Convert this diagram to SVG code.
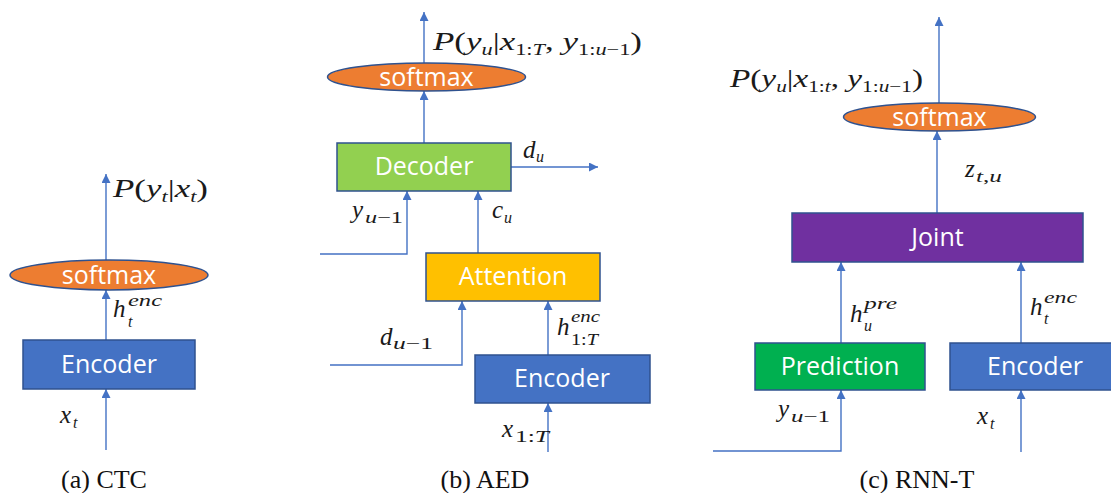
<svg xmlns="http://www.w3.org/2000/svg" width="1111" height="493" viewBox="0 0 1111 493">
<style>
.bx{stroke:#2F528F;stroke-width:1.5}
.el{fill:#ED7D31;stroke:#2F528F;stroke-width:1.5}
.lb{font-family:"Open Sans","Liberation Sans",sans-serif;font-size:25px;fill:#fff;text-anchor:middle}
.ln{fill:none;stroke:#4472C4;stroke-width:1.4}
.m{font-family:"Liberation Serif","Times New Roman",serif;font-size:25px;font-style:italic;fill:#1a1a1a}
.r{font-style:normal}
.s{font-size:16px}
.cap{font-family:"Liberation Serif","Times New Roman",serif;font-size:26px;fill:#111;text-anchor:middle}
</style>
<defs>
<marker id="ah" viewBox="0 0 10 10" refX="10" refY="5" markerWidth="10" markerHeight="9" markerUnits="userSpaceOnUse" orient="auto">
<path d="M0,0 L10,5 L0,10 z" fill="#4472C4"/>
</marker>
</defs>
<rect width="1111" height="493" fill="#fff"/>

<g id="connectors">
<!-- CTC -->
<line class="ln" x1="106" y1="260" x2="106" y2="174" marker-end="url(#ah)"/>
<line class="ln" x1="106" y1="340" x2="106" y2="290" marker-end="url(#ah)"/>
<line class="ln" x1="106" y1="450" x2="106" y2="389" marker-end="url(#ah)"/>
<!-- AED -->
<line class="ln" x1="424" y1="63" x2="424" y2="12" marker-end="url(#ah)"/>
<line class="ln" x1="424" y1="143" x2="424" y2="91" marker-end="url(#ah)"/>
<line class="ln" x1="511" y1="167" x2="598" y2="167" marker-end="url(#ah)"/>
<path class="ln" d="M320,254 H407 V191" marker-end="url(#ah)"/>
<line class="ln" x1="478" y1="253" x2="478" y2="191" marker-end="url(#ah)"/>
<path class="ln" d="M330,365 H462 V301" marker-end="url(#ah)"/>
<line class="ln" x1="548" y1="355" x2="548" y2="301" marker-end="url(#ah)"/>
<line class="ln" x1="548" y1="452" x2="548" y2="403" marker-end="url(#ah)"/>
<!-- RNN-T -->
<line class="ln" x1="939" y1="103" x2="939" y2="17" marker-end="url(#ah)"/>
<line class="ln" x1="937" y1="213" x2="937" y2="131" marker-end="url(#ah)"/>
<line class="ln" x1="841" y1="343" x2="841" y2="262" marker-end="url(#ah)"/>
<line class="ln" x1="1021" y1="343" x2="1021" y2="262" marker-end="url(#ah)"/>
<path class="ln" d="M713,451 H841 V390" marker-end="url(#ah)"/>
<line class="ln" x1="1021" y1="452" x2="1021" y2="390" marker-end="url(#ah)"/>
</g>

<!-- CTC -->
<g id="ctc-softmax">
<ellipse class="el" cx="109" cy="275" rx="99" ry="15"/>
<text class="lb" x="109" y="284">softmax</text>
</g>
<g id="ctc-encoder">
<rect class="bx" x="23" y="340" width="172" height="49" fill="#4472C4"/>
<text class="lb" x="109" y="373">Encoder</text>
</g>
<g id="ctc-labels">
<text class="m" x="113" y="197" textLength="95" lengthAdjust="spacingAndGlyphs">P<tspan class="r">(</tspan>y<tspan class="s" dy="5">t</tspan><tspan class="r" dy="-5">|</tspan>x<tspan class="s" dy="5">t</tspan><tspan class="r" dy="-5">)</tspan></text>
<text class="m" x="113" y="317">h</text>
<text class="m s" x="128" y="306" textLength="34" lengthAdjust="spacingAndGlyphs">enc</text>
<text class="m s" x="128" y="327">t</text>
<text class="m" x="60" y="423">x</text>
<text class="m s" x="73" y="428">t</text>
<text class="cap" x="104" y="488">(a) CTC</text>
</g>

<!-- AED -->
<g id="aed-softmax">
<ellipse class="el" cx="426.5" cy="77" rx="99" ry="14"/>
<text class="lb" x="426.5" y="86">softmax</text>
</g>
<g id="aed-decoder">
<rect class="bx" x="337" y="143" width="174" height="48" fill="#92D050"/>
<text class="lb" x="424" y="175">Decoder</text>
</g>
<g id="aed-attention">
<rect class="bx" x="426" y="253" width="174" height="48" fill="#FFC000"/>
<text class="lb" x="513" y="285">Attention</text>
</g>
<g id="aed-encoder">
<rect class="bx" x="475" y="355" width="175" height="48" fill="#4472C4"/>
<text class="lb" x="562" y="387">Encoder</text>
</g>
<g id="aed-labels">
<text class="m" x="433" y="50" textLength="209" lengthAdjust="spacingAndGlyphs">P<tspan class="r">(</tspan>y<tspan class="s" dy="5">u</tspan><tspan class="r" dy="-5">|</tspan>x<tspan class="s r" dy="5">1:</tspan><tspan class="s">T</tspan><tspan class="r" dy="-5">, </tspan>y<tspan class="s r" dy="5">1:</tspan><tspan class="s">u</tspan><tspan class="s r">−1</tspan><tspan class="r" dy="-5">)</tspan></text>
<text class="m" x="523" y="158">d</text>
<text class="m s" x="536" y="162">u</text>
<text class="m" x="352" y="218">y</text>
<text class="m s" x="365" y="223" textLength="38" lengthAdjust="spacingAndGlyphs">u<tspan class="r">−1</tspan></text>
<text class="m" x="492" y="218">c</text>
<text class="m s" x="504" y="223">u</text>
<text class="m" x="380" y="345">d</text>
<text class="m s" x="393" y="349" textLength="40" lengthAdjust="spacingAndGlyphs">u<tspan class="r">−1</tspan></text>
<text class="m" x="557" y="335">h</text>
<text class="m s" x="571" y="322" textLength="29" lengthAdjust="spacingAndGlyphs">enc</text>
<text class="m s" x="571" y="345" textLength="27" lengthAdjust="spacingAndGlyphs"><tspan class="r">1:</tspan>T</text>
<text class="m" x="502" y="437">x</text>
<text class="m s" x="515" y="442" textLength="34" lengthAdjust="spacingAndGlyphs"><tspan class="r">1:</tspan>T</text>
<text class="cap" x="485" y="488">(b) AED</text>
</g>

<!-- RNN-T -->
<g id="rnnt-softmax">
<ellipse class="el" cx="939.5" cy="117" rx="96" ry="14"/>
<text class="lb" x="939.5" y="126">softmax</text>
</g>
<g id="rnnt-joint">
<rect class="bx" x="792" y="213" width="291" height="49" fill="#7030A0"/>
<text class="lb" x="937.5" y="246">Joint</text>
</g>
<g id="rnnt-prediction">
<rect class="bx" x="755" y="343" width="170" height="47" fill="#00B050"/>
<text class="lb" x="840" y="375">Prediction</text>
</g>
<g id="rnnt-encoder">
<rect class="bx" x="950" y="343" width="165" height="47" fill="#4472C4"/>
<text class="lb" x="1035" y="375">Encoder</text>
</g>
<g id="rnnt-labels">
<text class="m" x="730" y="87" textLength="193" lengthAdjust="spacingAndGlyphs">P<tspan class="r">(</tspan>y<tspan class="s" dy="5">u</tspan><tspan class="r" dy="-5">|</tspan>x<tspan class="s r" dy="5">1:</tspan><tspan class="s">t</tspan><tspan class="r" dy="-5">, </tspan>y<tspan class="s r" dy="5">1:</tspan><tspan class="s">u</tspan><tspan class="s r">−1</tspan><tspan class="r" dy="-5">)</tspan></text>
<text class="m" x="965" y="177">z</text>
<text class="m s" x="976" y="182" textLength="26" lengthAdjust="spacingAndGlyphs">t<tspan class="r">,</tspan>u</text>
<text class="m" x="850" y="322">h</text>
<text class="m s" x="864" y="309" textLength="33" lengthAdjust="spacingAndGlyphs">pre</text>
<text class="m s" x="864" y="331">u</text>
<text class="m" x="1030" y="315">h</text>
<text class="m s" x="1044" y="303" textLength="33" lengthAdjust="spacingAndGlyphs">enc</text>
<text class="m s" x="1044" y="324">t</text>
<text class="m" x="778" y="417">y</text>
<text class="m s" x="791" y="422" textLength="39" lengthAdjust="spacingAndGlyphs">u<tspan class="r">−1</tspan></text>
<text class="m" x="977" y="424">x</text>
<text class="m s" x="990" y="429">t</text>
<text class="cap" x="917" y="488">(c) RNN-T</text>
</g>
</svg>
